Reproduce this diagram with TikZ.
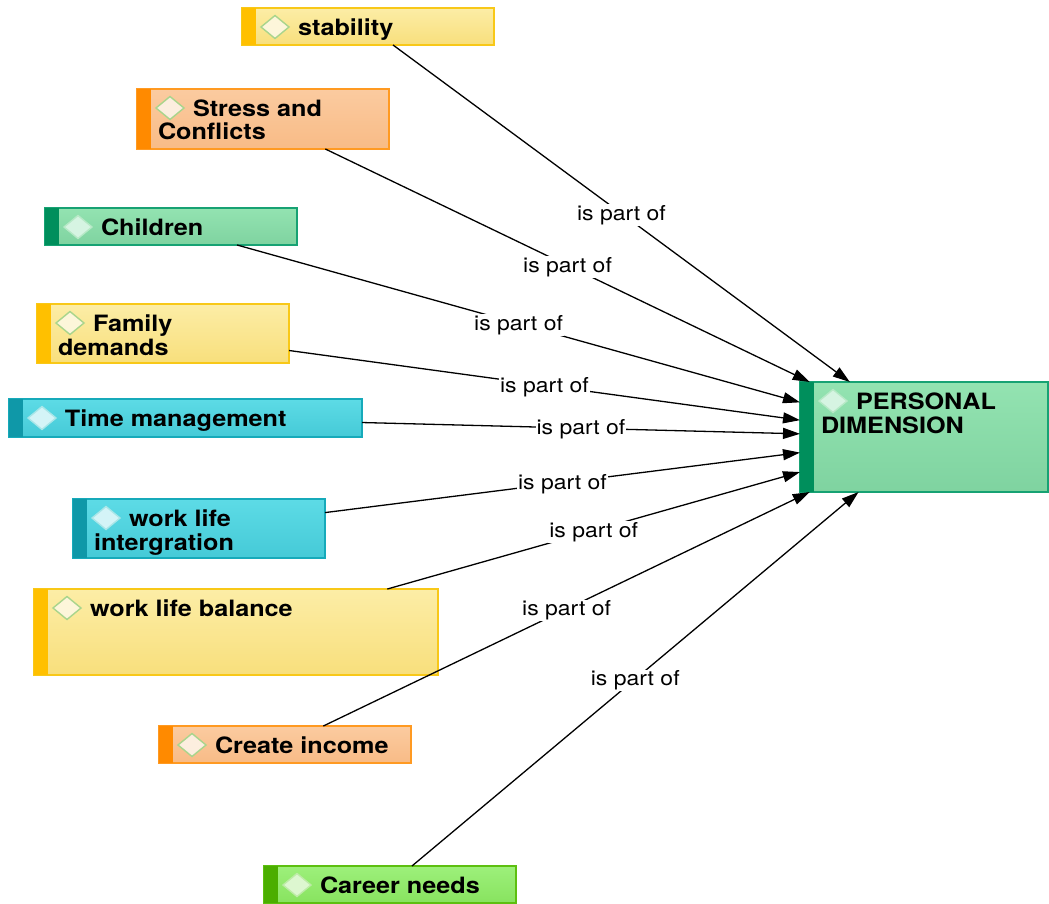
\documentclass[tikz,border=0pt]{standalone}
\usepackage{fontspec}
\newfontfamily\heros{TeX Gyre Heros}[FakeStretch=1.12]
\usetikzlibrary{arrows.meta}

% palettes: bar, border, top/bottom fill, diamond fill and edge
\definecolor{ybar}{HTML}{FFC000}\definecolor{yborder}{HTML}{F8C818}
\definecolor{ytop}{HTML}{FCEDA6}\definecolor{ybot}{HTML}{F8DF7C}
\definecolor{ydia}{HTML}{FDF6DA}\definecolor{ydiaedge}{HTML}{A9D58C}

\definecolor{obar}{HTML}{FF8A00}\definecolor{oborder}{HTML}{FF9A22}
\definecolor{otop}{HTML}{FBCBA0}\definecolor{obot}{HTML}{F8BB86}
\definecolor{odia}{HTML}{FCEEDF}\definecolor{odiaedge}{HTML}{A9D58C}

\definecolor{gbar}{HTML}{008F5C}\definecolor{gborder}{HTML}{17A273}
\definecolor{gtop}{HTML}{93E3B1}\definecolor{gbot}{HTML}{7FD3A0}
\definecolor{gdia}{HTML}{D6F4E2}\definecolor{gdiaedge}{HTML}{B6E9C6}

\definecolor{tbar}{HTML}{0F98A8}\definecolor{tborder}{HTML}{16AABA}
\definecolor{ttop}{HTML}{5DDBE6}\definecolor{tbot}{HTML}{45CAD7}
\definecolor{tdia}{HTML}{D4F4F7}\definecolor{tdiaedge}{HTML}{A8E6E8}

\definecolor{lbar}{HTML}{4BAE00}\definecolor{lborder}{HTML}{5DBF10}
\definecolor{ltop}{HTML}{9DF07B}\definecolor{lbot}{HTML}{88E35F}
\definecolor{ldia}{HTML}{DDF7D0}\definecolor{ldiaedge}{HTML}{BDEBA6}

\tikzset{
  cbox/.style={rectangle, anchor=north west, inner sep=0pt, outer sep=0pt,
    line width=1.4pt, draw=#1border, top color=#1top, bottom color=#1bot},
  ctext/.style={anchor=base west, inner sep=0pt, outer sep=0pt,
    font=\heros\bfseries\fontsize{22.5}{23.5}\selectfont},
  link/.style={line width=1.3pt, -{Triangle[length=17pt,width=11pt]}},
  lbl/.style={fill=white, inner sep=1pt, font=\heros\fontsize{20.5}{22}\selectfont}
}

% #1 name, #2 palette, #3 top-left corner, #4 width, #5 height, #6 text
\newcommand\conceptbox[6]{%
  \node[cbox=#2, minimum width=#4pt, minimum height=#5pt] (#1) at (#3) {};
  \fill[fill=#2bar] (#1.north west) rectangle ([xshift=14pt]#1.south west);
  \filldraw[fill=#2dia, draw=#2diaedge, line width=1.4pt]
    ([xshift=19pt,yshift=-19pt]#1.north west) -- ++(14pt,11.5pt)
    -- ++(14pt,-11.5pt) -- ++(-14pt,-11.5pt) -- cycle;
  \node[ctext] (#1-text) at ([xshift=21pt,yshift=-27.5pt]#1.north west)
    {\parbox[t]{\dimexpr#4pt-30pt\relax}{\raggedright\hspace*{35pt}#6}};
}

\begin{document}
\begin{tikzpicture}[x=1pt,y=-1pt]
\useasboundingbox (0,0) rectangle (1049,904);

\conceptbox{stab}{y}{242,8}{252}{37}{stability}
\conceptbox{stress}{o}{137,89}{252}{60}{Stress and\\Conflicts}
\conceptbox{child}{g}{45,208}{252}{37}{Children}
\conceptbox{family}{y}{37,304}{252}{59}{Family\\demands}
\conceptbox{time}{t}{9,399}{353}{38}{Time management}
\conceptbox{wli}{t}{73,499}{252}{59}{work life\\intergration}
\conceptbox{wlb}{y}{34,589}{404}{86}{work life balance}
\conceptbox{income}{o}{159,726}{252}{37}{Create income}
\conceptbox{career}{l}{264,866}{252}{37}{Career needs}
\conceptbox{pers}{g}{800,382}{248}{110}{PERSONAL\\DIMENSION}

\foreach \src in {stab,stress,child,family,time,wli,wlb,income,career}
  \draw[link] (\src) -- node[lbl, yshift=-1.5pt] {is part of} (pers);
\end{tikzpicture}
\end{document}
